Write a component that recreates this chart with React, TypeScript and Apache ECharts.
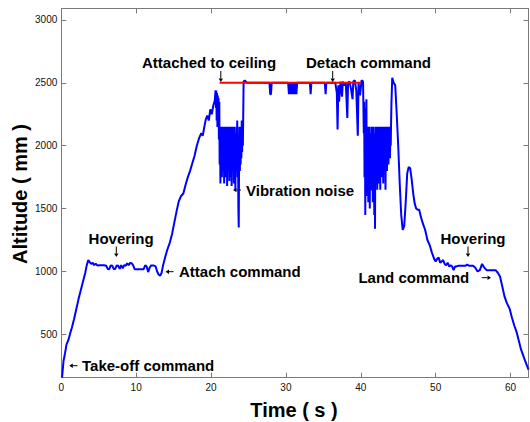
import React, { useEffect, useRef } from "react";
import * as echarts from "echarts";

// Flight log segments: time (s) and measured altitude (mm)
const ascentTime: number[] = [
  0.1, 0.3, 0.5, 0.7, 0.95, 1.2, 1.4, 1.7, 2.0, 2.3, 2.6, 2.9, 3.2, 3.4, 3.6,
  3.8, 4.0, 4.2, 4.4, 4.6, 4.8, 5.1, 5.4, 5.7, 6.0, 6.2, 6.4, 6.6, 6.8, 7.0, 7.2, 7.4, 7.6, 7.8, 8.0, 8.2, 8.4, 8.6, 8.8, 9.0, 9.2, 9.4, 9.6, 9.8, 10.2, 10.6, 11.0, 11.2, 11.4, 11.6, 11.8, 12.0, 12.3, 12.6, 12.8, 13.0, 13.2, 13.4,
  13.6, 13.9, 14.2, 14.5, 14.8, 15.1, 15.4, 15.7, 16.0, 16.3, 16.6, 16.9, 17.2, 17.5, 17.8, 18.1, 18.4, 18.7, 18.9, 19.1, 19.3, 19.5, 19.7, 19.9, 20.1, 20.3, 20.5, 20.6,
];
const ascentAlt: number[] = [
  155, 290, 350, 420, 455, 510, 550, 620, 700, 780, 850, 920, 990, 1050, 1090,
  1075, 1060, 1070, 1050, 1062, 1048, 1050, 1050, 1050, 1045, 1020, 1018, 1048, 1045, 1020, 1020, 1048, 1045, 1020, 1050, 1025, 1050, 1045, 1065, 1050, 1068, 1065, 1048, 1018, 1018, 1018, 1018, 1048, 1040, 995, 1030, 1048, 1048, 1040, 1000, 975, 965, 990,
  1050, 1120, 1180, 1230, 1300, 1390, 1480, 1560, 1600, 1620, 1690, 1750, 1800, 1860, 1920, 2000, 2060, 2100, 2080, 2150, 2210, 2240, 2200, 2290, 2250, 2320, 2360, 2440,
];

const vibration1Time: number[] = [
  20.65, 20.7, 20.75, 20.8, 20.85, 20.9, 20.95, 21.0, 21.05, 21.1, 21.15, 21.2, 21.25, 21.3, 21.35, 21.4, 21.45, 21.5, 21.55, 21.6,
  21.65, 21.7, 21.75, 21.8, 21.85, 21.9, 21.95, 22.0, 22.05, 22.1, 22.15, 22.2, 22.25, 22.3, 22.35, 22.4, 22.45, 22.5, 22.55, 22.6,
  22.65, 22.7, 22.75, 22.8, 22.85, 22.9, 22.95, 23.0, 23.05, 23.1, 23.15, 23.2, 23.25, 23.3, 23.35, 23.4, 23.45, 23.5, 23.55, 23.6,
  23.65, 23.7, 23.75, 23.8, 23.85, 23.9, 23.95, 24.0, 24.05, 24.1, 24.15, 24.2, 24.25, 24.3, 24.35,
];
const vibration1Alt: number[] = [
  2300, 2440, 2200, 2420, 2150, 2400, 2250, 2380, 2050, 2350, 1850, 2150, 1700, 2100, 1900, 2150, 1750, 2050, 1850, 2150,
  1800, 2150, 1700, 2000, 1950, 2150, 1750, 2100, 1850, 2150, 1680, 2050, 1800, 2150, 1900, 2100, 1720, 2150, 1850, 2000,
  1750, 2150, 1680, 2100, 1900, 2150, 1800, 2050, 1700, 2150, 1850, 2000, 1650, 2100, 1800, 2150, 1900, 2200, 1750, 2050,
  1500, 1350, 1950, 2150, 1800, 2100, 1850, 2150, 1900, 2200, 1950, 2150, 2000, 2250, 2510,
];

const attachedTime: number[] = [
  24.5, 24.8, 25.0, 25.5, 26.0, 27.0, 27.8, 27.9, 28.0, 28.1, 29.0, 30.0, 30.3, 30.4, 30.5, 30.6, 30.7, 30.8, 30.9, 31.0, 31.1, 31.2, 31.3, 31.4, 31.5, 32.0, 33.2, 33.3, 33.4, 34.0, 35.0, 35.2, 35.3, 35.4, 36.0, 36.4,
  36.6, 36.8, 36.9, 37.0, 37.1, 37.3, 37.5, 37.6, 37.8, 38.0, 38.2, 38.3, 38.5, 38.7, 38.9, 39.0, 39.2, 39.4, 39.6, 39.7, 39.9, 40.1, 40.3,
];
const attachedAlt: number[] = [
  2520, 2500, 2500, 2500, 2500, 2500, 2500, 2410, 2410, 2500, 2500, 2500, 2500, 2410, 2500, 2410, 2500, 2410, 2500, 2410, 2500, 2410, 2500, 2410, 2500, 2500, 2500, 2410, 2500, 2500, 2500, 2500, 2410, 2500, 2500, 2500,
  2500, 2420, 2130, 2480, 2350, 2510, 2390, 2510, 2480, 2500, 2220, 2500, 2510, 2450, 2370, 2510, 2520, 2440, 2080, 2500, 2400, 2520, 2510,
];

const vibration2Time: number[] = [
  40.4, 40.45, 40.5, 40.55, 40.6, 40.65, 40.7, 40.75, 40.8, 40.85, 40.9, 40.95, 41.0, 41.05, 41.1, 41.15, 41.2, 41.25, 41.3, 41.35,
  41.4, 41.45, 41.5, 41.55, 41.6, 41.65, 41.7, 41.75, 41.8, 41.85, 41.9, 41.95, 42.0, 42.05, 42.1, 42.15, 42.2, 42.25, 42.3, 42.35,
  42.4, 42.45, 42.5, 42.55, 42.6, 42.65, 42.7, 42.75, 42.8, 42.85, 42.9, 42.95, 43.0, 43.05, 43.1, 43.15, 43.2, 43.25, 43.3, 43.35,
  43.4, 43.45, 43.5, 43.55, 43.6, 43.65, 43.7, 43.75, 43.8, 43.85, 43.9, 43.95, 44.0, 44.05, 44.1,
];
const vibration2Alt: number[] = [
  2100, 2350, 1750, 2300, 1450, 2100, 1800, 2370, 1600, 2050, 1700, 2150, 1550, 1950, 1800, 2150, 1500, 2100, 1750, 2000,
  1650, 2150, 1850, 2050, 1550, 2150, 1800, 1950, 1450, 2100, 1340, 2150, 1700, 2050, 1850, 2150, 1650, 2000, 1800, 2150,
  1700, 2100, 1900, 2150, 1650, 2050, 1800, 2150, 1750, 2000, 1850, 2150, 1700, 2100, 1900, 2150, 1800, 2050, 1650, 2150,
  1900, 2100, 1800, 2150, 1950, 2150, 1850, 2100, 1950, 2150, 1900, 2100, 2000, 2200, 2350,
];

const descentTime: number[] = [
  44.2, 44.4, 44.6, 44.8, 45.0, 45.2, 45.4, 45.6, 45.8, 46.0, 46.2, 46.4, 46.6, 46.8, 47.0, 47.2, 47.4, 47.6, 47.8, 48.0, 48.3, 48.6, 48.9, 49.2, 49.5, 49.8,
  50.0, 50.2, 50.4, 50.6, 50.8, 51.0, 51.2, 51.4, 51.6, 51.8, 52.0, 52.2, 52.4, 52.6, 52.8, 53.0, 53.5, 54.0, 54.2, 54.5, 55.0, 55.3, 55.6, 55.9, 56.2, 56.5, 56.8, 57.2, 57.6, 58.0,
  58.3, 58.6, 58.9, 59.2, 59.5, 59.9, 60.2, 60.5, 60.8, 61.1, 61.4, 61.7, 62.0, 62.4,
];
const descentAlt: number[] = [
  2540, 2500, 2480, 2250, 2000, 1700, 1450, 1330, 1360, 1550, 1780, 1830, 1820, 1730, 1620, 1540, 1500, 1490, 1490, 1440, 1380, 1330, 1250, 1210, 1150, 1100,
  1080, 1100, 1110, 1070, 1080, 1090, 1060, 1050, 1070, 1040, 1050, 1040, 1010, 1040, 1040, 1045, 1045, 1045, 1055, 1045, 1045, 1030, 1000, 1010, 1060, 1030, 1010, 1010, 1010, 1010,
  990, 960, 880, 800, 750, 700, 630, 570, 520, 450, 380, 330, 280, 220,
];

// Ceiling reference line
const ceilingTime: number[] = [21.15, 40.0];
const ceilingLevel: number[] = [2500, 2500];

// Axis ticks
const xTicks: number[] = [0, 10, 20, 30, 40, 50, 60];
const yTicks: number[] = [500, 1000, 1500, 2000, 2500, 3000];

const FONT = "'Liberation Sans', Arial, Helvetica, sans-serif";

export default function App() {
  const ref = useRef<HTMLDivElement>(null);
  useEffect(() => {
    if (!ref.current) return;
    const chart = echarts.init(ref.current, null, { renderer: "svg" });
    const timeS = [...ascentTime, ...vibration1Time, ...attachedTime, ...vibration2Time, ...descentTime];
    const altitudeMm = [...ascentAlt, ...vibration1Alt, ...attachedAlt, ...vibration2Alt, ...descentAlt];
    const flight = timeS.map((t, i) => [t, altitudeMm[i]]);
    const ceiling = ceilingTime.map((t, i) => [t, ceilingLevel[i]]);

    const axisColor = "#7a7a7a";
    const baseX = {
      type: "value",
      min: 0,
      max: 62.4,
      axisLine: { show: true, onZero: false, lineStyle: { color: axisColor, width: 1 } },
      axisTick: { show: true, inside: true, length: 5, customValues: xTicks, lineStyle: { color: axisColor } },
      splitLine: { show: false },
    };
    const baseY = {
      type: "value",
      min: 155,
      max: 3093,
      axisLine: { show: true, onZero: false, lineStyle: { color: axisColor, width: 1 } },
      axisTick: { show: true, inside: true, length: 5, customValues: yTicks, lineStyle: { color: axisColor } },
      splitLine: { show: false },
    };

    const ann = (text: string, x: number, y: number, size = 15, align = "left") => ({
      type: "text",
      x,
      y,
      z: 100,
      style: {
        text,
        fill: "#000",
        font: `bold ${size}px ${FONT}`,
        textAlign: align,
        textVerticalAlign: "middle",
      },
    });

    // small arrow from (x1,y1) to (x2,y2), head at (x2,y2)
    const arrow = (x1: number, y1: number, x2: number, y2: number) => {
      const dx = x2 - x1;
      const dy = y2 - y1;
      const len = Math.sqrt(dx * dx + dy * dy);
      const ux = dx / len;
      const uy = dy / len;
      const hl = 3.5;
      const hw = 2.2;
      const bx = x2 - ux * hl;
      const by = y2 - uy * hl;
      return {
        type: "group",
        z: 100,
        children: [
          {
            type: "line",
            shape: { x1, y1, x2: bx, y2: by },
            style: { stroke: "#000", lineWidth: 1 },
          },
          {
            type: "polygon",
            shape: {
              points: [
                [x2, y2],
                [bx - uy * hw, by + ux * hw],
                [bx + uy * hw, by - ux * hw],
              ],
            },
            style: { fill: "#000" },
          },
        ],
      };
    };

    chart.setOption({
      animation: false,
      backgroundColor: "#fff",
      grid: { left: 61.3, right: 1.5, top: 8.3, bottom: 44.3, containLabel: false },
      xAxis: [
        {
          ...baseX,
          position: "bottom",
          axisLabel: {
            show: true,
            customValues: xTicks,
            color: "#111",
            fontSize: 10,
            fontFamily: FONT,
            margin: 5,
            formatter: (v: number) => String(v),
          },
        },
        { ...baseX, position: "top", axisLabel: { show: false } },
      ],
      yAxis: [
        {
          ...baseY,
          position: "left",
          axisLabel: {
            show: true,
            customValues: yTicks,
            color: "#111",
            fontSize: 10,
            fontFamily: FONT,
            margin: 4,
            formatter: (v: number) => String(v),
          },
        },
        { ...baseY, position: "right", axisLabel: { show: false } },
      ],
      series: [
        {
          type: "line",
          data: flight,
          showSymbol: false,
          symbol: "none",
          lineStyle: { color: "#0000ff", width: 2 },
          z: 2,
        },
        {
          type: "line",
          data: ceiling,
          showSymbol: false,
          symbol: "none",
          lineStyle: { color: "#ff0000", width: 2 },
          z: 3,
        },
      ],
      graphic: [
        ann("Attached to ceiling", 142, 62),
        arrow(220.8, 71, 220.8, 82),
        ann("Detach command", 306, 62),
        arrow(332.7, 71, 332.7, 82),
        arrow(241, 190, 233, 190),
        ann("Vibration noise", 246, 190),
        arrow(365, 190, 376, 190),
        ann("Hovering", 88.6, 238.3),
        arrow(116.3, 246.5, 116.3, 257),
        arrow(173.5, 271.7, 165.5, 271.7),
        ann("Attach command", 179, 271.7),
        arrow(77.5, 365.7, 69.3, 365.7),
        ann("Take-off command", 82, 365.7),
        ann("Hovering", 440.5, 238.3),
        arrow(468, 246.5, 468, 257),
        ann("Land command", 358.4, 277.7),
        arrow(481.7, 277.7, 491, 277.7),
        ann("Time ( s )", 294, 410, 20, "center"),
        {
          type: "text",
          x: 20.3,
          y: 194,
          rotation: Math.PI / 2,
          z: 100,
          style: {
            text: "Altitude ( mm )",
            fill: "#000",
            font: `bold 20px ${FONT}`,
            textAlign: "center",
            textVerticalAlign: "middle",
          },
        },
      ],
    });
    return () => chart.dispose();
  }, []);
  return (
    <div
      ref={ref}
      style={{ position: "fixed", left: 0, top: 0, width: 530, height: 422, background: "#fff" }}
    />
  );
}
